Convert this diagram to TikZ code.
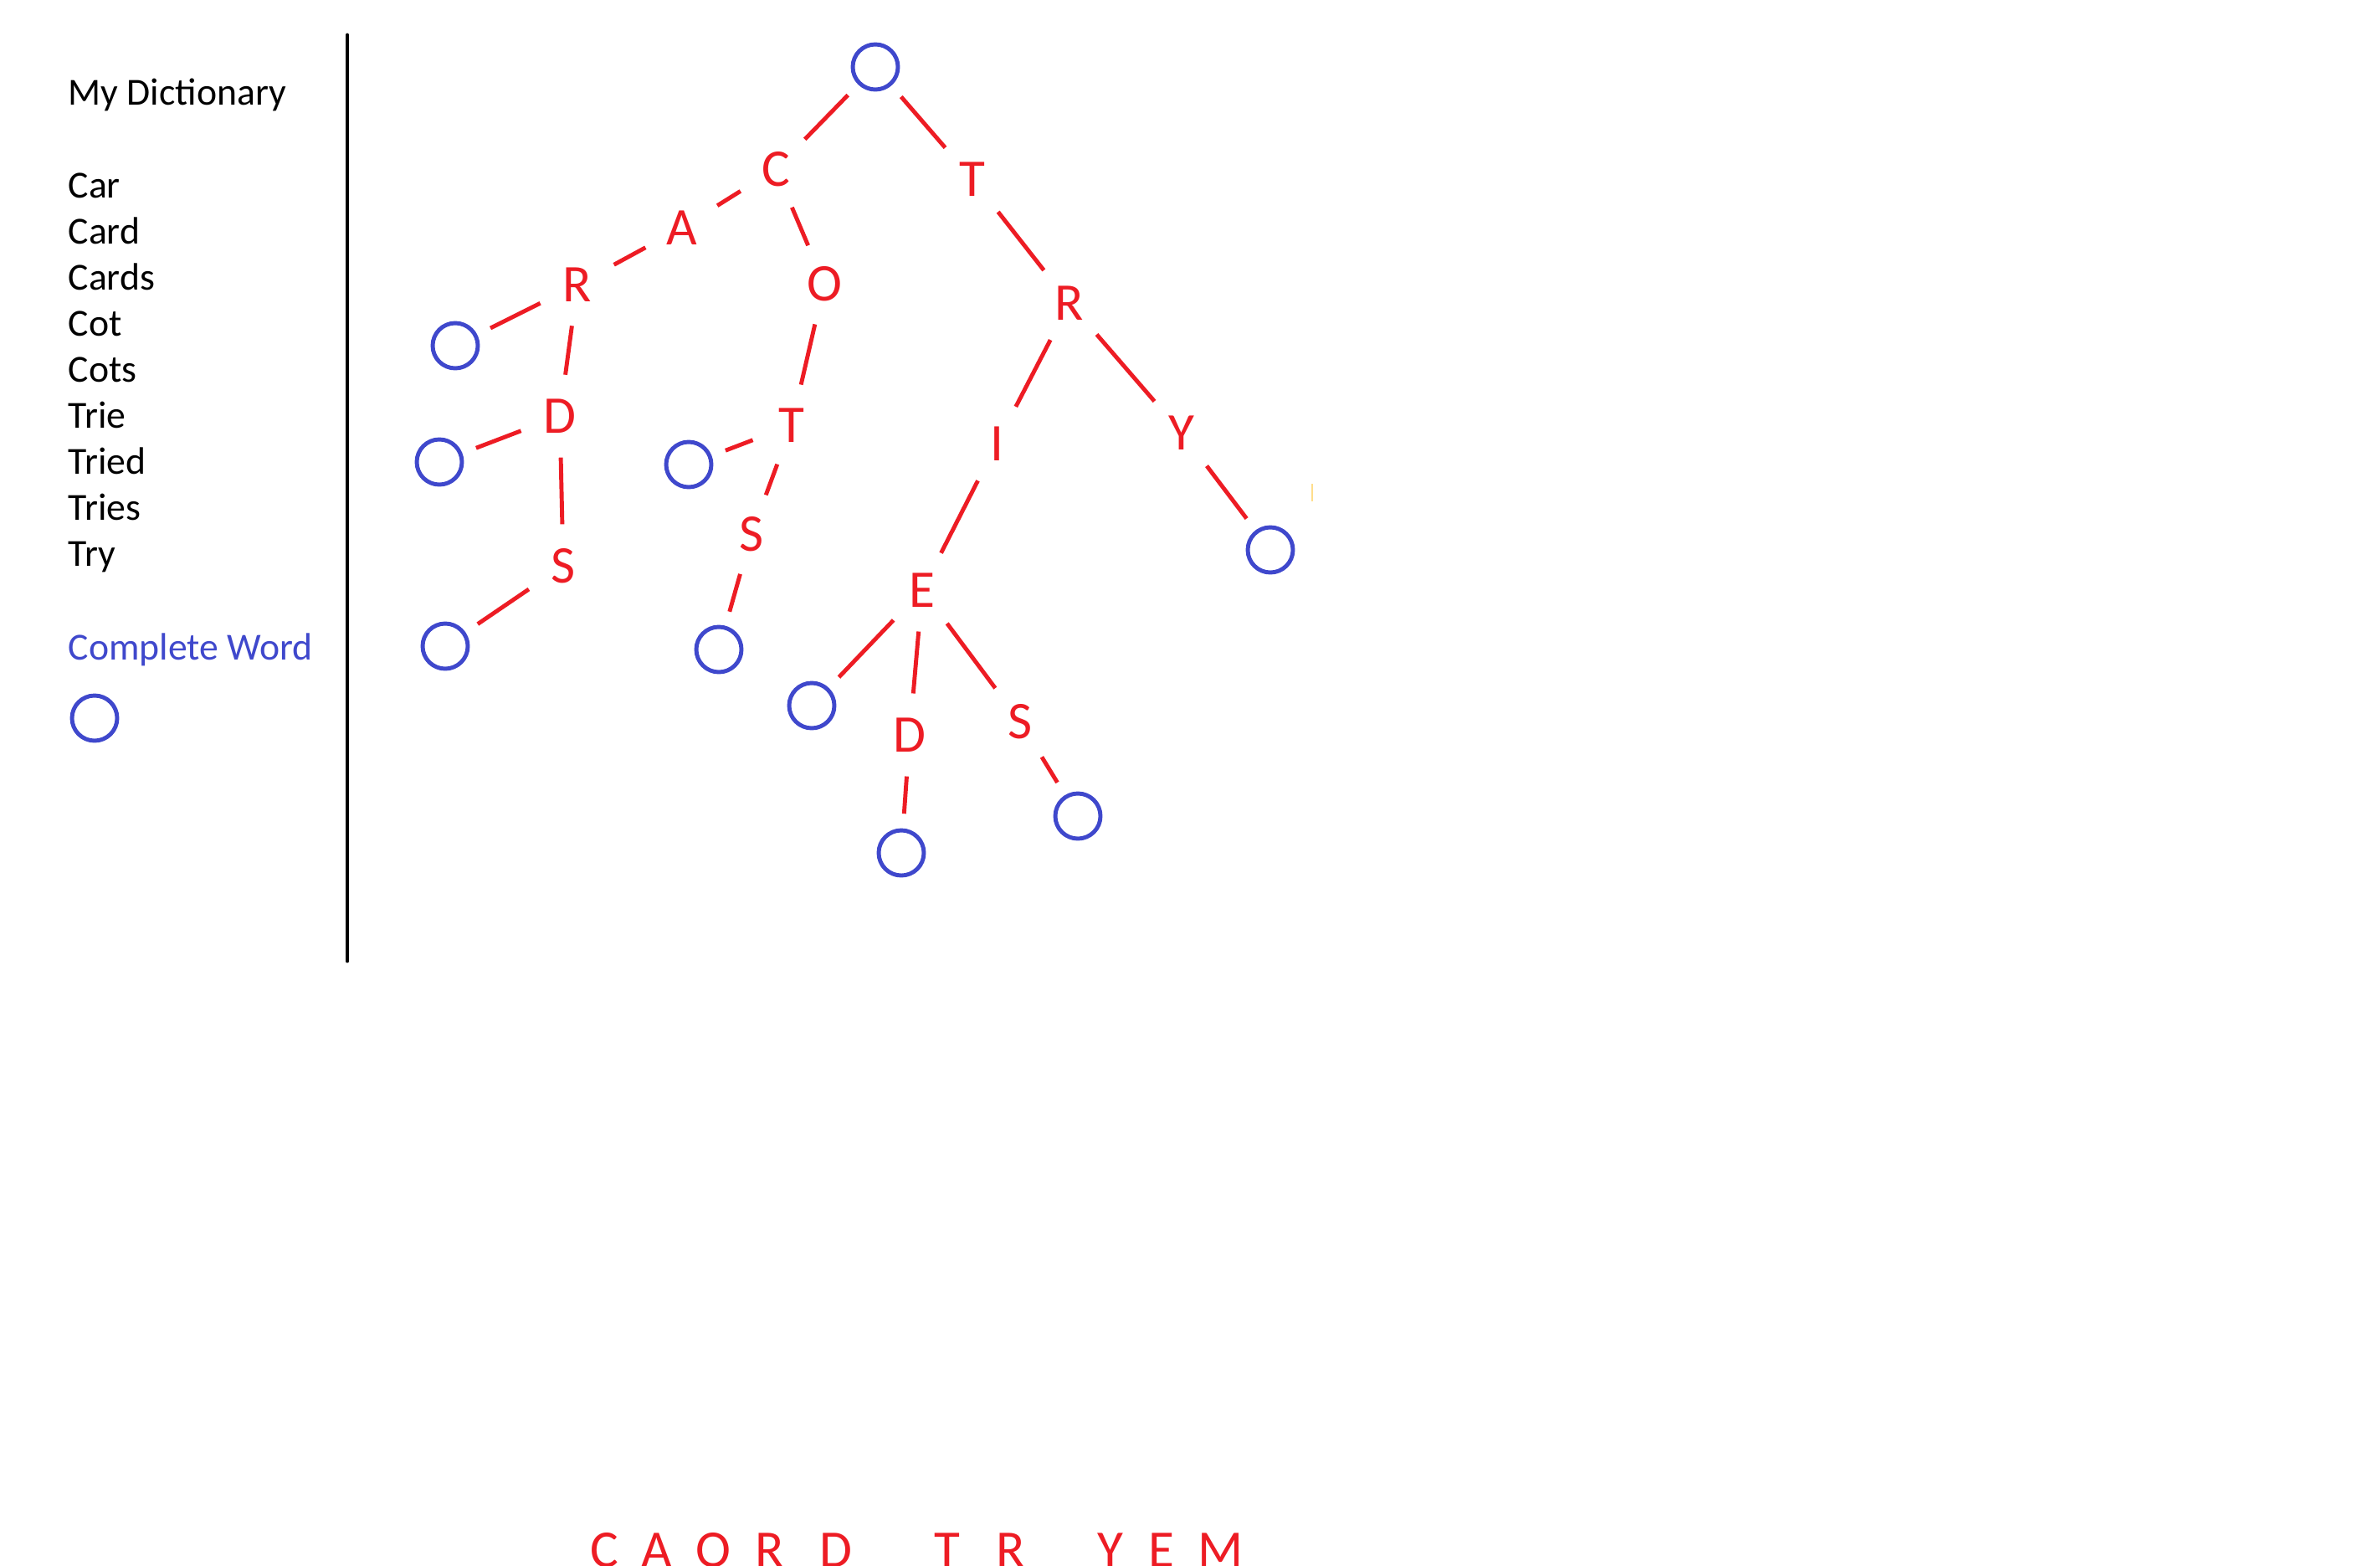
\documentclass[tikz,border=0pt]{standalone}
\usepackage{fontspec}
\setmainfont{Carlito}
\usepackage{tikz}
\usetikzlibrary{
    positioning
}
\definecolor{paintred}{RGB}{237,28,36}
\definecolor{paintblue}{RGB}{63,72,204}
\definecolor{paintyellow}{RGB}{255,222,140}
\tikzset{
    letter/.style={
        circle,
        minimum size=0.98cm,
        inner sep=0pt,
        text=paintred,
        font=\fontsize{18}{20}\selectfont
    },
    endword/.style={
        circle,
        draw=paintblue,
        line width=1.4pt,
        minimum size=0.54cm,
        inner sep=0pt,
        outer sep=0.2cm
    },
    link/.style={
        draw=paintred,
        line width=1.4pt
    },
    wordtxt/.style={
        anchor=base west,
        inner sep=0pt,
        font=\fontsize{13}{15}\selectfont
    },
    bottomtxt/.style={
        anchor=base,
        inner sep=0pt,
        text=paintred,
        font=\fontsize{18}{20}\selectfont
    }
}

\begin{document}
\begin{tikzpicture}

    \useasboundingbox (0,0) rectangle (28.44,-18.70);

    % Diccionario
    \node[wordtxt] (title) at (0.81,-1.25) {My Dictionary};
    \foreach \w [count=\i] in {Car,Card,Cards,Cot,Cots,Trie,Tried,Tries,Try}
        \node[wordtxt] (w\i) at (0.81,{-2.36-0.55*(\i-1)}) {\w};
    \node[wordtxt, text=paintblue] (legend) at (0.81,-7.88) {Complete Word};
    \node[endword] (key) at (1.13,-8.58) {};

    % Separador
    \coordinate (septop) at (4.15,-0.42);
    \coordinate (sepbot) at (4.15,-11.48);
    \draw[line width=1.4pt, line cap=round] (septop) -- (sepbot);

    % Nodos
    \node[endword] (root) at (10.46,-0.80)  {};

    \node[letter]  (c1)   at (9.27,-2.02)   {C};
    \node[letter]  (t1)   at (11.62,-2.14)  {T};

    \node[letter]  (a1)   at (8.15,-2.72)   {A};
    \node[letter]  (o1)   at (9.85,-3.39)   {O};
    \node[letter]  (r1)   at (6.90,-3.40)   {R};
    \node[letter]  (r2)   at (12.78,-3.62)  {R};

    \node[endword] (er1)  at (5.44,-4.13)   {};
    \node[letter]  (d1)   at (6.69,-4.97)   {D};
    \node[letter]  (t2)   at (9.46,-5.08)   {T};
    \node[letter]  (i1)   at (11.91,-5.30)  {I};
    \node[letter]  (y1)   at (14.12,-5.17)  {Y};

    \node[endword] (ed1)  at (5.25,-5.52)   {};
    \node[letter]  (s1)   at (6.73,-6.76)   {S};
    \node[endword] (et2)  at (8.23,-5.55)   {};
    \node[letter]  (s2)   at (8.98,-6.38)   {S};
    \node[endword] (ey1)  at (15.18,-6.57)  {};
    \node[letter]  (e1)   at (11.02,-7.05)  {E};

    \node[endword] (es1)  at (5.32,-7.72)   {};
    \node[endword] (es2)  at (8.59,-7.76)   {};
    \node[endword] (ee1)  at (9.70,-8.43)   {};
    \node[letter]  (d2)   at (10.87,-8.78)  {D};
    \node[letter]  (s3)   at (12.19,-8.62)  {S};

    \node[endword] (ed2)  at (10.77,-10.19) {};
    \node[endword] (es3)  at (12.88,-9.75)  {};

    % Aristas
    \path[link]

        (root)
            edge (c1)
            edge (t1)

        % rama C
        (c1)
            edge (a1)
            edge (o1)
        (a1)
            edge (r1)
        (r1)
            edge (er1)
            edge (d1)
        (d1)
            edge (ed1)
            edge (s1)
        (s1)
            edge (es1)
        (o1)
            edge (t2)
        (t2)
            edge (et2)
            edge (s2)
        (s2)
            edge (es2)

        % rama T
        (t1)
            edge (r2)
        (r2)
            edge (i1)
            edge (y1)
        (y1)
            edge (ey1)
        (i1)
            edge (e1)
        (e1)
            edge (ee1)
            edge (d2)
            edge (s3)
        (d2)
            edge (ed2)
        (s3)
            edge (es3);

    % Marca suelta
    \coordinate (ticktop) at (15.68,-5.78);
    \coordinate (tickbot) at (15.68,-5.99);
    \draw[paintyellow, line width=0.4pt] (ticktop) -- (tickbot);

    % Texto inferior
    \foreach \l/\x [count=\i] in {C/7.22,A/7.85,O/8.52,R/9.20,D/9.99,T/11.32,R/12.08,Y/13.27,E/13.88,M/14.59}
        \node[bottomtxt] (b\i) at (\x,-18.72) {\l};

\end{tikzpicture}
\end{document}
